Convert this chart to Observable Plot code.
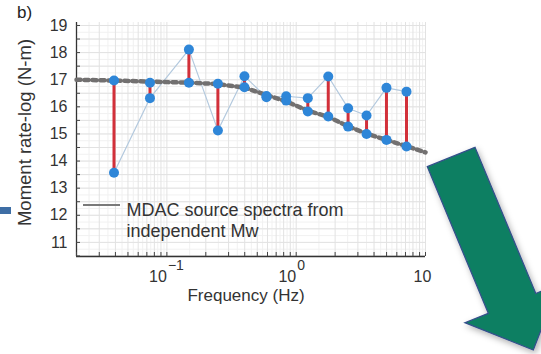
<!DOCTYPE html>
<html>
<head>
<meta charset="utf-8">
<script src="https://cdn.jsdelivr.net/npm/d3@7"></script>
<script src="https://cdn.jsdelivr.net/npm/@observablehq/plot@0.6"></script>
<style>
  html, body { margin: 0; padding: 0; background: #fff; }
  #wrap { position: relative; width: 541px; height: 354px; overflow: hidden; font-family: "Liberation Sans", Arial, sans-serif; }
  #deco { position: absolute; left: 0; top: 0; pointer-events: none; }
  #panel { position: absolute; left: 17px; top: 3px; font-size: 17px; color: #222; }
</style>
</head>
<body>
<div id="wrap">
  <div id="chart"></div>
  <div id="panel">b)</div>
  <svg id="deco" width="541" height="354" viewBox="0 0 541 354">
    <defs>
      <filter id="sh" x="-20%" y="-20%" width="140%" height="140%">
        <feDropShadow dx="2" dy="3" stdDeviation="3" flood-color="#000" flood-opacity="0.3"/>
      </filter>
    </defs>
    <rect x="0" y="207" width="11" height="7" fill="#3e6ea5"/>
    <polygon points="427.3,166.7 475,147.3 535.8,293.5 558.9,283.9 533.3,350 465,322.7 488.3,313.3"
      fill="#117f62" stroke="#34508c" stroke-width="1.3" filter="url(#sh)"/>
  </svg>
</div>
<script>
// ---- data ----
const freqHz    = [0.039, 0.074, 0.148, 0.248, 0.398, 0.589, 0.837, 1.23, 1.77, 2.52, 3.50, 4.99, 7.13];
const observed  = [13.57, 16.32, 18.11, 15.13, 17.13, 16.35, 16.39, 16.32, 17.12, 15.95, 15.68, 16.70, 16.56];
const predicted = [16.97, 16.89, 16.89, 16.85, 16.72, 16.40, 16.23, 15.83, 15.64, 15.27, 15.00, 14.78, 14.54];
const mdacFreq  = [0.02, 0.039, 0.074, 0.148, 0.248, 0.398, 0.589, 0.837, 1.23, 1.77, 2.52, 3.50, 4.99, 7.13, 10];
const mdacValue = [17.00, 16.97, 16.93, 16.89, 16.84, 16.71, 16.44, 16.20, 15.86, 15.63, 15.28, 15.01, 14.78, 14.55, 14.32];
const yTicks = [11, 12, 13, 14, 15, 16, 17, 18, 19];
const xTickValues = [0.1, 1, 10];
const xTickBase = ["10", "10", "10"];
const xTickExp = ["\u22121", "0", ""];
const legendLines = ["MDAC source spectra from", "independent Mw"];
const yLabel = "Moment rate-log (N-m)";
const xLabel = "Frequency (Hz)";

const xDomain = [0.02, 10];
const yDomain = [10.48, 19.11];

// grid / minor tick positions
const xMinor = [];
for (const d of [0.01, 0.1, 1]) for (let m = 1; m <= 9; m++) { const v = +(m * d).toPrecision(3); if (v >= 0.02 && v <= 10) xMinor.push(v); }
xMinor.push(10);
const xHalf = [];
for (const d of [0.01, 0.1, 1]) for (let m = 1.5; m < 10; m += 1) { const v = +(m * d).toPrecision(3); if (v >= 0.02 && v <= 10) xHalf.push(v); }
const yQuarter = d3.range(10.5, 19.11, 0.25);
const yHalf = d3.range(10.5, 19.11, 0.5);

const rows = freqHz.map((f, i) => ({f, obs: observed[i], pred: predicted[i]}));
const mdac = mdacFreq.map((f, i) => ({f, v: mdacValue[i]}));
const xt = xTickValues.map((v, i) => ({v, base: xTickBase[i], exp: xTickExp[i]}));
const xtExp = xt.filter(d => d.exp !== "");
const xtPlain = xt.filter(d => d.exp === "");

const blue = "#2e86d8";
const txt = "#333";
const chart = Plot.plot({
  width: 541,
  height: 354,
  marginLeft: 76,
  marginRight: 116,
  marginTop: 22,
  marginBottom: 98,
  style: {fontFamily: "'Liberation Sans', Arial, sans-serif", background: "transparent", color: "#222"},
  x: {type: "log", domain: xDomain, axis: null},
  y: {domain: yDomain, axis: null},
  marks: [
    // grid
    Plot.ruleX(xHalf, {stroke: "#f1f1f1", strokeWidth: 1}),
    Plot.ruleY(yQuarter, {stroke: "#f1f1f1", strokeWidth: 1}),
    Plot.ruleX(xMinor, {stroke: "#e2e2e2", strokeWidth: 1}),
    Plot.ruleY(yHalf, {stroke: "#e2e2e2", strokeWidth: 1}),
    // axes lines
    Plot.ruleX([xDomain[0]], {stroke: "#333", strokeWidth: 1.3}),
    Plot.ruleY([yDomain[0]], {stroke: "#333", strokeWidth: 1.3}),
    // inward ticks
    Plot.axisY({ticks: yHalf, tickSize: 4, dx: 4, tickFormat: () => "", label: null, stroke: "#444"}),
    Plot.axisX({ticks: xMinor, tickSize: 4, dy: -4, tickFormat: () => "", label: null, stroke: "#444"}),
    // tick labels
    Plot.axisY({ticks: yTicks, tickSize: 0, tickPadding: 9, fontSize: 16, label: null, fill: txt}),
    Plot.text(xtExp, {x: "v", text: "base", frameAnchor: "bottom", lineAnchor: "middle", dy: 20, textAnchor: "end", fontSize: 16, fill: txt}),
    Plot.text(xtExp, {x: "v", text: "exp", frameAnchor: "bottom", lineAnchor: "middle", dy: 9, dx: 1, textAnchor: "start", fontSize: 14, fill: txt}),
    Plot.text(xtPlain, {x: "v", text: "base", frameAnchor: "bottom", lineAnchor: "middle", dy: 20, dx: -3, textAnchor: "middle", fontSize: 16, fill: txt}),
    // axis labels
    Plot.text([xLabel], {frameAnchor: "bottom", lineAnchor: "middle", textAnchor: "middle", dy: 39, dx: -5, fontSize: 17, fill: txt}),
    Plot.text([yLabel], {frameAnchor: "left", lineAnchor: "middle", textAnchor: "middle", dx: -51, dy: -7, rotate: -90, fontSize: 18.5, fill: txt}),
    // data
    Plot.line(rows, {x: "f", y: "obs", stroke: "#b3c9de", strokeWidth: 1.2}),
    Plot.line(mdac, {x: "f", y: "v", stroke: "#727070", strokeWidth: 4.5, strokeDasharray: "4,4"}),
    Plot.link(rows, {x1: "f", x2: "f", y1: "obs", y2: "pred", stroke: "#d2303a", strokeWidth: 3}),
    Plot.dot(rows, {x: "f", y: "pred", r: 5, fill: blue}),
    Plot.dot(rows, {x: "f", y: "obs", r: 5, fill: blue}),
    // legend text
    Plot.text([legendLines[0]], {frameAnchor: "top-left", dx: 50, dy: 188, textAnchor: "start", lineAnchor: "middle", fontSize: 18, fill: txt}),
    Plot.text([legendLines[1]], {frameAnchor: "top-left", dx: 50, dy: 209, textAnchor: "start", lineAnchor: "middle", fontSize: 18, fill: txt})
  ]
});
document.getElementById("chart").appendChild(chart);
// legend sample line (short solid gray stroke next to the legend text)
d3.select(chart).append("line").attr("x1", 83).attr("x2", 120).attr("y1", 205).attr("y2", 205)
  .attr("stroke", "#7a7a7a").attr("stroke-width", 2);
</script>
</body>
</html>
